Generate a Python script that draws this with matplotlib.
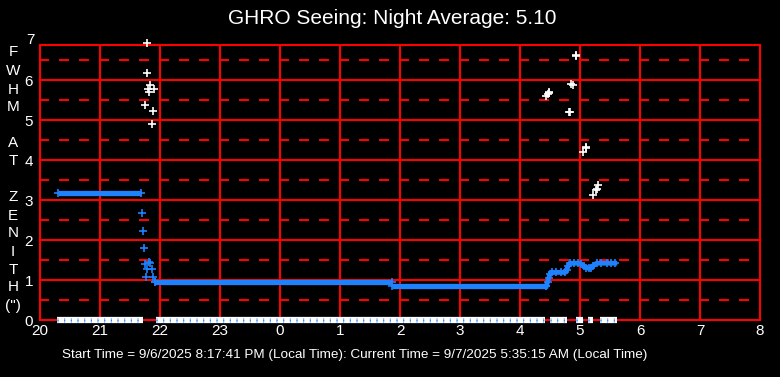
import numpy as np
import matplotlib.pyplot as plt

plt.rcParams['font.family'] = ['Liberation Sans', 'DejaVu Sans']
plt.rcParams['lines.scale_dashes'] = False

RED = '#FF0000'
BLUE = '#1E82FF'

# hours since midnight of start day (24 = 0h next day)
hour_ticks = list(range(20, 33))
hour_labels = [str(h % 24) for h in hour_ticks]
y_ticks = [0, 1, 2, 3, 4, 5, 6, 7]

# flat runs of the seeing series: start hour, end hour, FWHM
band_start = [20.30, 21.92, 25.87]
band_end = [21.69, 25.87, 28.44]
band_value = [3.17, 0.95, 0.85]

# individual seeing points after the sudden drop (blue)
drop_t = [21.705, 21.72, 21.74, 21.75, 21.77, 21.79, 21.82, 21.83, 21.87, 21.89, 21.91]
drop_v = [2.67, 2.22, 1.79, 1.39, 1.07, 1.27, 1.44, 1.42, 1.27, 1.07, 0.94]

# end of night seeing (blue)
late_t = [28.44, 28.46, 28.48, 28.50, 28.53, 28.60, 28.68, 28.75, 28.78, 28.80, 28.83,
          28.90, 28.97, 29.02, 29.06, 29.10, 29.15, 29.18, 29.22, 29.28, 29.35, 29.45, 29.52, 29.58]
late_v = [0.85, 0.95, 1.05, 1.15, 1.19, 1.19, 1.19, 1.19, 1.25, 1.35, 1.42,
          1.42, 1.42, 1.40, 1.35, 1.31, 1.29, 1.31, 1.36, 1.42, 1.42, 1.42, 1.42, 1.42]

# raw measurements (white)
raw_t = [21.78, 21.79, 21.84, 21.80, 21.905, 21.82, 21.755, 21.89, 21.87,
         28.93, 28.935, 28.85, 28.89, 28.48, 28.485, 28.47, 28.44, 28.82, 28.825,
         29.095, 29.10, 29.055, 29.305, 29.27, 29.275, 29.22]
raw_v = [6.93, 6.17, 5.875, 5.77, 5.77, 5.70, 5.37, 5.22, 4.89,
         6.625, 6.60, 5.89, 5.87, 5.67, 5.70, 5.64, 5.60, 5.19, 5.21,
         4.29, 4.32, 4.19, 3.37, 3.24, 3.27, 3.125]

# runs of zero readings
zero_start = [20.28, 21.93, 28.50, 28.94, 29.13, 29.33]
zero_end = [21.72, 28.42, 28.78, 29.05, 29.22, 29.61]

fig = plt.figure(figsize=(7.8, 3.77), dpi=100, facecolor='black')
ax = fig.add_axes([40 / 780, 1 - 320 / 377, 720 / 780, 275 / 377])
ax.set_facecolor('black')
ax.set_xlim(20, 32)
ax.set_ylim(0, 6.875)

# grid
for h in hour_ticks[1:-1]:
    ax.axvline(h, color=RED, lw=1.5, zorder=1)
for v in range(1, 7):
    ax.axhline(v, color=RED, lw=1.5, zorder=1)
for v in np.arange(0.5, 7, 1.0):
    ax.axhline(v, color=RED, lw=1.5, ls=(0.7, (7.2, 7.2)), zorder=1)
for s in ax.spines.values():
    s.set_color(RED)
    s.set_linewidth(1.5)

# zero readings
for a, b in zip(zero_start, zero_end):
    ax.plot([a, b], [0, 0], color='white', lw=4.5, solid_capstyle='butt', clip_on=False, zorder=3)
    ax.plot([a, b], [0, 0], color=BLUE, lw=1.0, ls=(0, (0.8, 4)), clip_on=False, zorder=4)
    ax.plot([a, b], [0, 0], color=BLUE, lw=3.5, ls=(0, (0.7, 4.1)), alpha=0.6, clip_on=False, zorder=4)

# seeing
for a, b, v in zip(band_start, band_end, band_value):
    ax.plot([a, b], [v, v], color=BLUE, lw=3.8, solid_capstyle='butt', zorder=3)
    ax.plot([a, b], [v, v], ls='none', marker='+', ms=6, mew=1.2, color=BLUE, zorder=3)
ax.plot(drop_t, drop_v, ls='none', marker='+', ms=6, mew=1.2, color=BLUE, zorder=3)
ax.plot(late_t, late_v, color=BLUE, lw=3.5, marker='+', ms=6, mew=1.2, zorder=3)
ax.plot(raw_t, raw_v, ls='none', marker='+', ms=6, mew=1.2, color='white', clip_on=False, zorder=3)

ax.set_xticks(hour_ticks)
ax.set_xticklabels(hour_labels)
ax.set_yticks(y_ticks[:-1])
ax.tick_params(length=0, colors='white', labelsize=11)
ax.tick_params(axis='x', pad=3)
ax.tick_params(axis='y', pad=5)
ax.text(-0.007, 7, '7', transform=ax.get_yaxis_transform(), ha='right', va='center',
        color='white', fontsize=11, clip_on=False)

fig.text(392 / 780, 1 - 19 / 377, 'GHRO Seeing: Night Average: 5.10', ha='center', va='center',
         color='white', fontsize=15)

label_rows = [('F', 52), ('W', 71), ('H', 90), ('M', 107), ('A', 143), ('T', 161),
              ('Z', 197), ('E', 216), ('N', 233), ('I', 252), ('T', 270), ('H', 287), ('(")', 306)]
for ch, yp in label_rows:
    fig.text(13 / 780, 1 - yp / 377, ch, ha='center', va='center', color='white', fontsize=11)

fig.text(62 / 780, 1 - 355 / 377,
         'Start Time = 9/6/2025 8:17:41 PM (Local Time): Current Time = 9/7/2025 5:35:15 AM (Local Time)',
         ha='left', va='center', color='white', fontsize=9.7)

fig.savefig('out.png', dpi=100, facecolor='black')
